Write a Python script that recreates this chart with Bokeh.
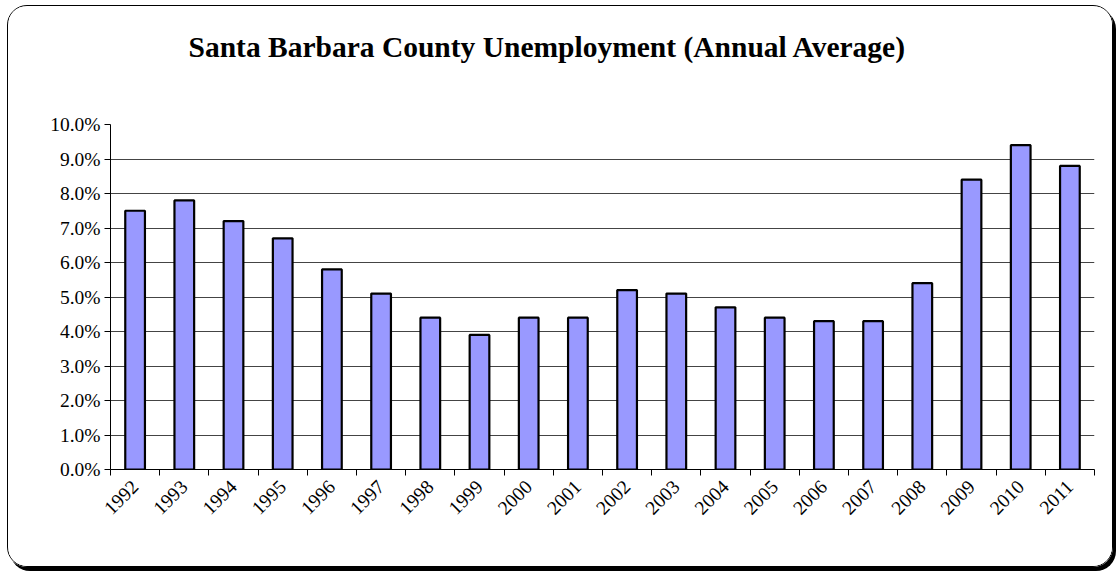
from bokeh.plotting import figure
from bokeh.models import FixedTicker, PrintfTickFormatter, Range1d, ColumnDataSource, Title
from bokeh.embed import file_html
from bokeh.resources import INLINE

years = ["1992", "1993", "1994", "1995", "1996", "1997", "1998", "1999", "2000", "2001",
         "2002", "2003", "2004", "2005", "2006", "2007", "2008", "2009", "2010", "2011"]
rates = [7.5, 7.8, 7.2, 6.7, 5.8, 5.1, 4.4, 3.9, 4.4, 4.4,
         5.2, 5.1, 4.7, 4.4, 4.3, 4.3, 5.4, 8.4, 9.4, 8.8]
y_ticks = [0, 1, 2, 3, 4, 5, 6, 7, 8, 9, 10]
title_text = "Santa Barbara County Unemployment (Annual Average)"

centers = [i + 0.5 for i in range(len(years))]
bounds = list(range(len(years) + 1))

src = ColumnDataSource(dict(x=centers, top=rates, year=years))

p = figure(width=1106, height=562, output_backend="svg", toolbar_location=None,
           x_range=Range1d(0, len(years)), y_range=Range1d(0, 10),
           min_border_left=102, min_border_right=20, min_border_top=0, min_border_bottom=99)
p.margin = (5, 0, 0, 7)

p.title.text = title_text
p.title.text_font = "Liberation Serif"
p.title.text_font_size = "29.5px"
p.title.text_font_style = "bold"
p.title.text_color = "black"
p.title.align = "left"
p.title.offset = 78
p.title.standoff = 44

spacer = Title(text=" ", text_font_size="10px", standoff=27, text_color="white")
p.add_layout(spacer, "above")

p.styles = {"border": "1px solid black", "border-radius": "20px",
            "box-shadow": "3px 4px 0px black", "overflow": "hidden"}
p.border_fill_color = "white"
p.background_fill_color = "white"
p.outline_line_color = None

p.vbar(x="x", top="top", width=0.4, bottom=0, source=src,
       fill_color="#9999FF", line_color="black", line_width=2.2)

p.xgrid.grid_line_color = None
p.ygrid.ticker = FixedTicker(ticks=y_ticks)
p.ygrid.grid_line_color = "#444444"
p.ygrid.grid_line_width = 1

p.yaxis.ticker = FixedTicker(ticks=y_ticks)
p.yaxis.formatter = PrintfTickFormatter(format="%.1f%%")
p.yaxis.major_tick_out = 6
p.yaxis.major_tick_in = 0
p.yaxis.minor_tick_line_color = None
p.yaxis.axis_line_color = "black"
p.yaxis.major_label_text_font = "Liberation Serif"
p.yaxis.major_label_text_font_size = "19.5px"
p.yaxis.major_label_text_color = "black"
p.yaxis.major_label_standoff = 4

p.xaxis.ticker = FixedTicker(ticks=centers, minor_ticks=bounds)
p.xaxis.major_label_overrides = {c: y for c, y in zip(centers, years)}
p.xaxis.major_tick_out = 0
p.xaxis.major_tick_in = 0
p.xaxis.minor_tick_out = 6
p.xaxis.minor_tick_in = 0
p.xaxis.minor_tick_line_color = "black"
p.xaxis.axis_line_color = "black"
p.xaxis.major_label_orientation = 0.785398
p.xaxis.major_label_text_font = "Liberation Serif"
p.xaxis.major_label_text_font_size = "19.5px"
p.xaxis.major_label_text_color = "black"
p.xaxis.major_label_standoff = 8

open("out.html", "w").write(file_html(p, INLINE))
